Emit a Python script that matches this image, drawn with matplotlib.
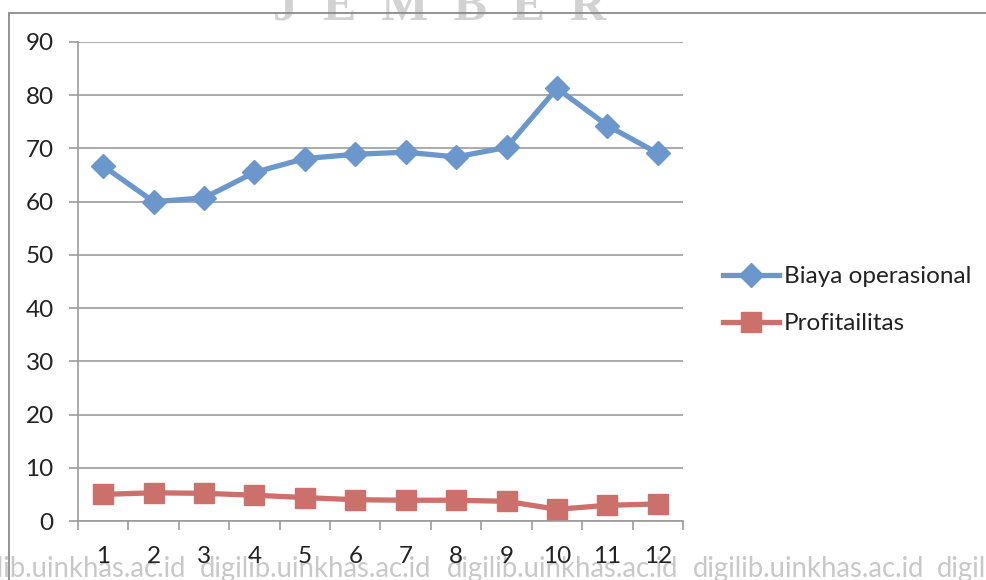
import numpy as np
import matplotlib.pyplot as plt
from matplotlib.patches import Rectangle

# data
months = ["1", "2", "3", "4", "5", "6", "7", "8", "9", "10", "11", "12"]
biaya_operasional = [66.7, 60.0, 60.7, 65.5, 68.1, 68.9, 69.3, 68.4, 70.2, 81.3, 74.3, 69.1]
profitabilitas = [5.0, 5.3, 5.2, 4.85, 4.4, 4.0, 3.9, 3.9, 3.7, 2.2, 2.95, 3.2]
y_ticks = [0, 10, 20, 30, 40, 50, 60, 70, 80, 90]

BLUE = "#6B97CC"
RED = "#CC706C"
GRID = "#9C9C9C"
FONT = "Lato"
FS = 17.5

W, H = 986, 580
plt.rcParams["font.family"] = [FONT, "DejaVu Sans"]

fig = plt.figure(figsize=(W / 100, H / 100), dpi=100)

# chart area frame (only top and left edges are visible in the crop)
fig.patches.append(Rectangle((9 / W, -0.2), 1.2, 1 - 13 / H + 0.2, transform=fig.transFigure,
                             fill=False, edgecolor="#8a8a8a", linewidth=1.3, clip_on=False))

ax = fig.add_axes([78 / W, 1 - 521 / H, (683 - 78) / W, (521 - 42) / H])
ax.patch.set_visible(False)

x = np.arange(len(months))
ax.plot(x, biaya_operasional, color=BLUE, linewidth=3.8, marker="D", markersize=12,
        label="Biaya operasional", zorder=3)
ax.plot(x, profitabilitas, color=RED, linewidth=3.8, marker="s", markersize=14,
        label="Profitailitas", zorder=3)

ax.set_xlim(-0.5, len(months) - 0.5)
ax.set_ylim(0, 90)
ax.set_yticks(y_ticks)
ax.set_yticklabels([str(v) for v in y_ticks])
ax.yaxis.grid(True, color=GRID, linewidth=1.2)
ax.set_axisbelow(True)

# category boundaries get the tick marks, centers get the labels
ax.set_xticks(np.arange(-0.5, len(months), 1.0))
ax.set_xticklabels([])
ax.set_xticks(x, minor=True)
ax.set_xticklabels(months, minor=True)
ax.tick_params(axis="x", which="major", length=6.5, width=1.2, color=GRID, direction="out")
ax.tick_params(axis="x", which="minor", length=0, pad=18, labelsize=FS, labelcolor="#222222")
ax.tick_params(axis="y", length=6.5, width=1.2, color=GRID, pad=11, labelsize=FS,
               labelcolor="#222222")

for side in ["top", "right"]:
    ax.spines[side].set_visible(False)
for side in ["left", "bottom"]:
    ax.spines[side].set_color(GRID)
    ax.spines[side].set_linewidth(1.2)

fig.legend(loc="upper left", bbox_to_anchor=(723 / W, 1 - 266 / H), frameon=False,
           fontsize=FS, handlelength=2.3, handletextpad=0.2, labelspacing=1.08,
           borderpad=0, borderaxespad=0, labelcolor="#222222")

# scan watermarks
fig.text(440 / W, 1 - 20 / H, "J  E  M  B  E  R", family="Liberation Serif", weight="bold",
         fontsize=36, color="#d2d2d2", ha="center", va="baseline", zorder=-1)
for x0 in [-45, 200, 447, 693, 937]:
    fig.text(x0 / W, 1 - 577 / H, "digilib.uinkhas.ac.id", fontsize=19.8, color="#c8c8c8",
             ha="left", va="baseline", zorder=-1)

fig.savefig("out.png", dpi=100)
